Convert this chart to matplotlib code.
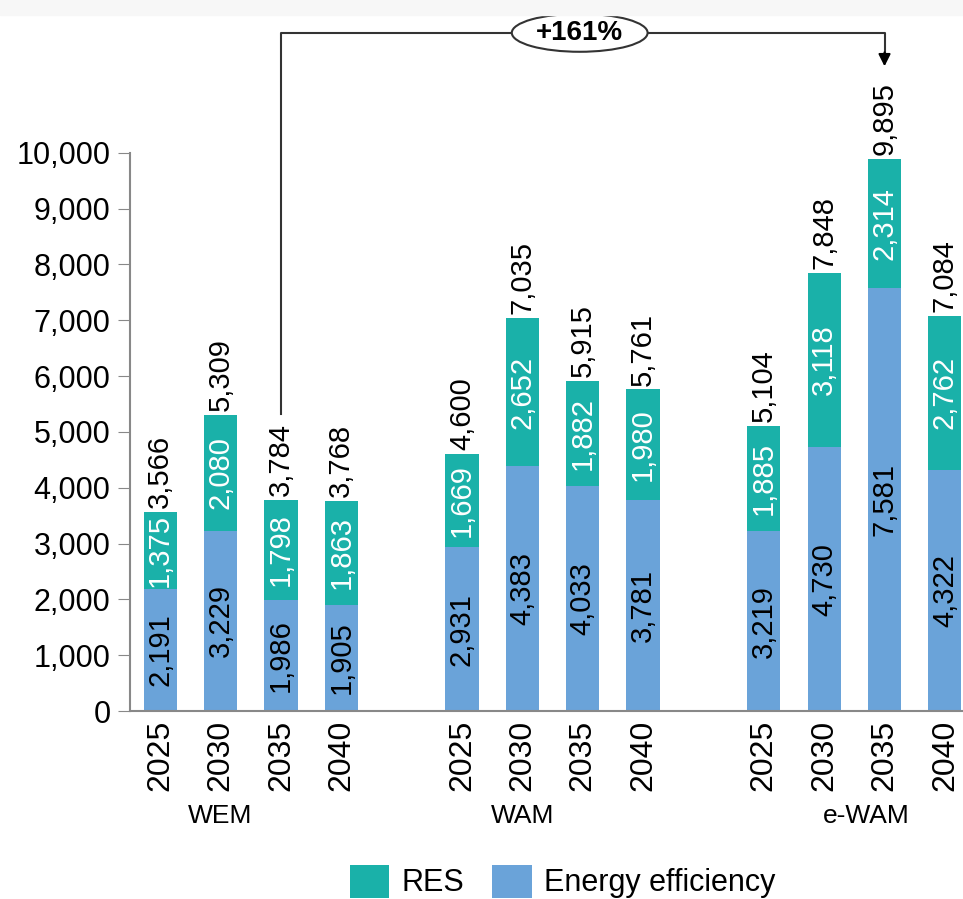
import matplotlib.pyplot as plt
from matplotlib.patches import Ellipse, Rectangle

plt.rcParams['font.family'] = ['Liberation Sans', 'DejaVu Sans']

# data
groups = ['WEM', 'WAM', 'e-WAM']
group_x = [1, 6, 11.7]
years = ['2025', '2030', '2035', '2040']
energy_eff = [2191, 3229, 1986, 1905,
              2931, 4383, 4033, 3781,
              3219, 4730, 7581, 4322]
res = [1375, 2080, 1798, 1863,
       1669, 2652, 1882, 1980,
       1885, 3118, 2314, 2762]
totals = [3566, 5309, 3784, 3768,
          4600, 7035, 5915, 5761,
          5104, 7848, 9895, 7084]

col_res = '#1ab1a9'
col_ee = '#6aa3d9'
fs = 21

pos = []
for g in range(len(groups)):
    for k in range(len(years)):
        pos.append(g * 5 + k)

fig = plt.figure(figsize=(9.63, 8.99), dpi=100)
fig.patches.append(Rectangle((0, 0.983), 1, 0.017, transform=fig.transFigure,
                             color='#f7f7f7', zorder=0))
ax = fig.add_axes([0.135, 0.209, 0.865, 0.621])

w = 0.55
ax.bar(pos, energy_eff, width=w, color=col_ee, label='Energy efficiency')
ax.bar(pos, res, width=w, bottom=energy_eff, color=col_res, label='RES')

for x, e, r, t in zip(pos, energy_eff, res, totals):
    ax.text(x, e / 2, f'{e:,}', rotation=90, ha='center', va='center',
            fontsize=fs, color='black')
    ax.text(x, e + r / 2, f'{r:,}', rotation=90, ha='center', va='center',
            fontsize=fs, color='white')
    ax.text(x, t + 70, f'{t:,}', rotation=90, ha='center', va='bottom',
            fontsize=fs, color='black')

ax.set_xlim(-0.5, 13.3)
ax.set_ylim(0, 10000)
ax.set_yticks(range(0, 10001, 1000))
ax.set_yticklabels([f'{v:,}' for v in range(0, 10001, 1000)], fontsize=22)
ax.set_xticks(pos)
ax.set_xticklabels(years * len(groups), rotation=90, fontsize=23)
ax.tick_params(axis='x', length=0, pad=6)
ax.tick_params(axis='y', length=9, color='#888888', pad=5)
for s in ['top', 'right']:
    ax.spines[s].set_visible(False)
for s in ['left', 'bottom']:
    ax.spines[s].set_color('#888888')
    ax.spines[s].set_linewidth(1.5)

for name, gx in zip(groups, group_x):
    ax.text(gx, -1870, name, ha='center', va='center', fontsize=fs - 2,
            clip_on=False)

# +161% bracket from WEM 2035 to e-WAM 2035
x0, x1 = pos[2], pos[10]
ytop = 12150
ax.plot([x0, x0, x1, x1], [5330, ytop, ytop, 11800], color='#333333', lw=1.5,
        clip_on=False)
ax.annotate('', xy=(x1, 11500), xytext=(x1, 11850),
            arrowprops=dict(arrowstyle='-|>', color='black', lw=1.5,
                            mutation_scale=18), annotation_clip=False)
xm = 6.95
ax.add_patch(Ellipse((xm, ytop), 2.25, 680, facecolor='white', edgecolor='#333333',
                     lw=1.5, clip_on=False, zorder=5))
ax.text(xm, ytop, '+161%', ha='center', va='center', fontsize=fs - 1,
        fontweight='bold', zorder=6, clip_on=False)

h, l = ax.get_legend_handles_labels()
fig.legend(h[::-1], l[::-1], loc='lower center', bbox_to_anchor=(0.584, -0.03),
           ncol=2, frameon=False, fontsize=22, handlelength=1.3,
           handleheight=1.3, columnspacing=0.9, handletextpad=0.4)

fig.savefig('out.png', dpi=100)
